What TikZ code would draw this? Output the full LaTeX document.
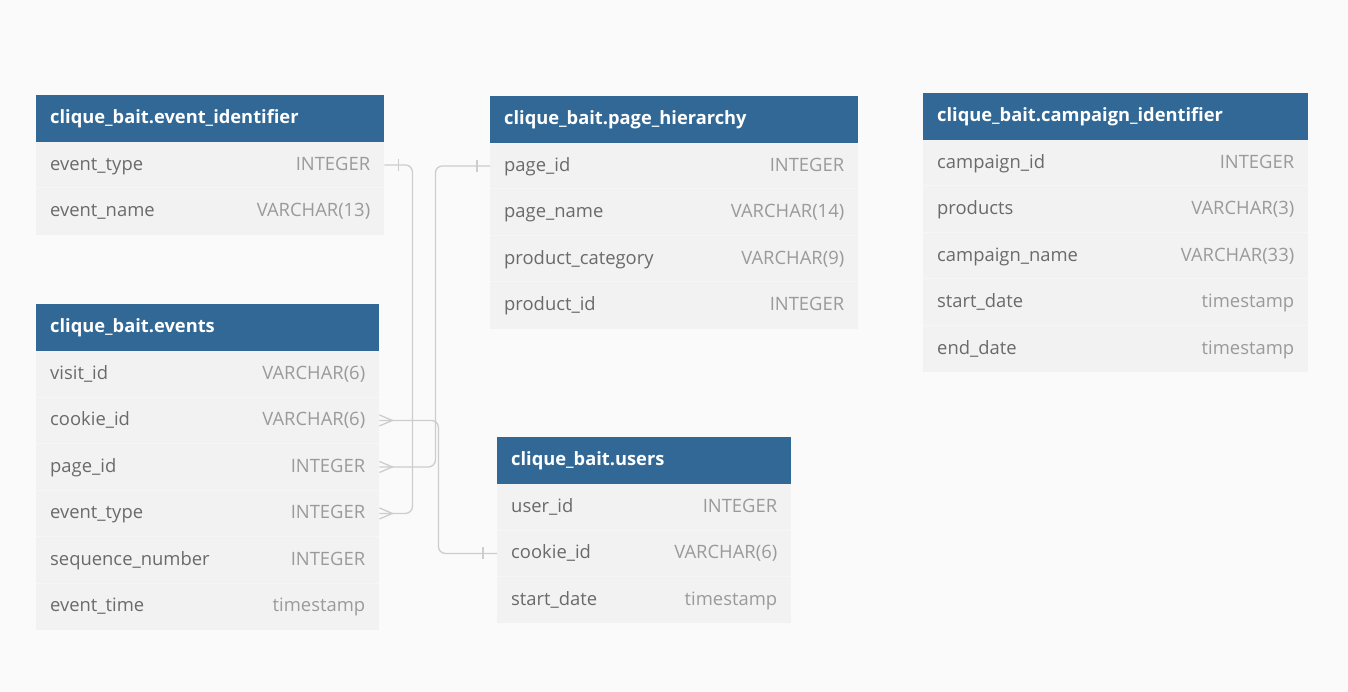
\documentclass[tikz,border=0pt]{standalone}
\usepackage{fontspec}
\setmainfont{Open Sans}
\usepackage{tikz}

\definecolor{headblue}{HTML}{316896}
\definecolor{rowgray}{HTML}{F2F2F2}
\definecolor{rowsep}{HTML}{F6F6F6}
\definecolor{bggray}{HTML}{FAFAFA}
\definecolor{namegray}{HTML}{6A6A6A}
\definecolor{typegray}{HTML}{9A9A9A}
\definecolor{relgray}{HTML}{CDCDCD}

\begin{document}
\begin{tikzpicture}[x=1pt,y=-1pt,
        tblhead/.style={fill=headblue, anchor=north west, inner sep=0pt, minimum height=46.5pt},
        tblrow/.style={fill=rowgray, anchor=north west, inner sep=0pt, minimum height=46.5pt},
        headtext/.style={anchor=west, inner sep=0pt, text=white, text height=11pt, text depth=0pt,
            font=\fontsize{18.3}{21}\selectfont\bfseries},
        colname/.style={anchor=west, inner sep=0pt, text=namegray, text height=11pt, text depth=0pt,
            font=\fontsize{18.4}{21}\selectfont},
        coltype/.style={anchor=east, inner sep=0pt, text=typegray, text height=11pt, text depth=0pt,
            font=\fontsize{18.4}{21}\selectfont},
        rowline/.style={draw=rowsep, line width=1pt},
        rel/.style={draw=relgray, line width=1.3pt, rounded corners=7pt},
        relmark/.style={draw=relgray, line width=1.3pt}]

        \fill[bggray] (0,0) rectangle (1348,692);
        \useasboundingbox (0,0) rectangle (1348,692);

        % name, x, y, width, title, rows
        \newcommand{\dbtable}[6]{
            \node[tblhead, minimum width=#4pt] (#1) at (#2,#3) {};
            \node[headtext] (#1-title) at ([xshift=14pt]#1.west) {#5};
            \foreach \cname/\ctype [count=\i] in {#6} {
                \node[tblrow, minimum width=#4pt] (#1-\i) at (#2,{#3+46.5*\i}) {};
                \ifnum\i>1
                    \draw[rowline] (#1-\i.north west) -- (#1-\i.north east);
                \fi
                \node[colname] (#1-\i-name) at ([xshift=14pt]#1-\i.west) {\cname};
                \node[coltype] (#1-\i-type) at ([xshift=-14pt]#1-\i.east) {\ctype};
            }
        }

        \dbtable{evid}{36}{95}{348}{clique\_bait.event\_identifier}
            {event\_type/INTEGER, event\_name/VARCHAR(13)}
        \dbtable{ev}{36}{304}{343}{clique\_bait.events}
            {visit\_id/VARCHAR(6), cookie\_id/VARCHAR(6), page\_id/INTEGER,
             event\_type/INTEGER, sequence\_number/INTEGER, event\_time/timestamp}
        \dbtable{ph}{490}{96}{368}{clique\_bait.page\_hierarchy}
            {page\_id/INTEGER, page\_name/VARCHAR(14), product\_category/VARCHAR(9),
             product\_id/INTEGER}
        \dbtable{us}{497}{437}{294}{clique\_bait.users}
            {user\_id/INTEGER, cookie\_id/VARCHAR(6), start\_date/timestamp}
        \dbtable{ci}{923}{93}{385}{clique\_bait.campaign\_identifier}
            {campaign\_id/INTEGER, products/VARCHAR(3), campaign\_name/VARCHAR(33),
             start\_date/timestamp, end\_date/timestamp}

        % relations
        \draw[rel] (evid-1.east) -- ++(28,0) |- (ev-4.east);
        \draw[rel] (ev-3.east) -- ++(56,0) |- (ph-1.west);
        \draw[rel] (ev-2.east) -- ++(59,0) |- (us-2.west);

        % one side
        \draw[relmark] ([xshift=14pt,yshift=6pt]evid-1.east) -- ([xshift=14pt,yshift=-6pt]evid-1.east);
        \draw[relmark] ([xshift=-13pt,yshift=6pt]ph-1.west) -- ([xshift=-13pt,yshift=-6pt]ph-1.west);
        \draw[relmark] ([xshift=-14pt,yshift=6pt]us-2.west) -- ([xshift=-14pt,yshift=-6pt]us-2.west);

        % many side
        \foreach \r in {2,3,4} {
            \draw[relmark] ([yshift=5.5pt]ev-\r.east) -- ([xshift=13pt]ev-\r.east) -- ([yshift=-5.5pt]ev-\r.east);
        }

\end{tikzpicture}
\end{document}
